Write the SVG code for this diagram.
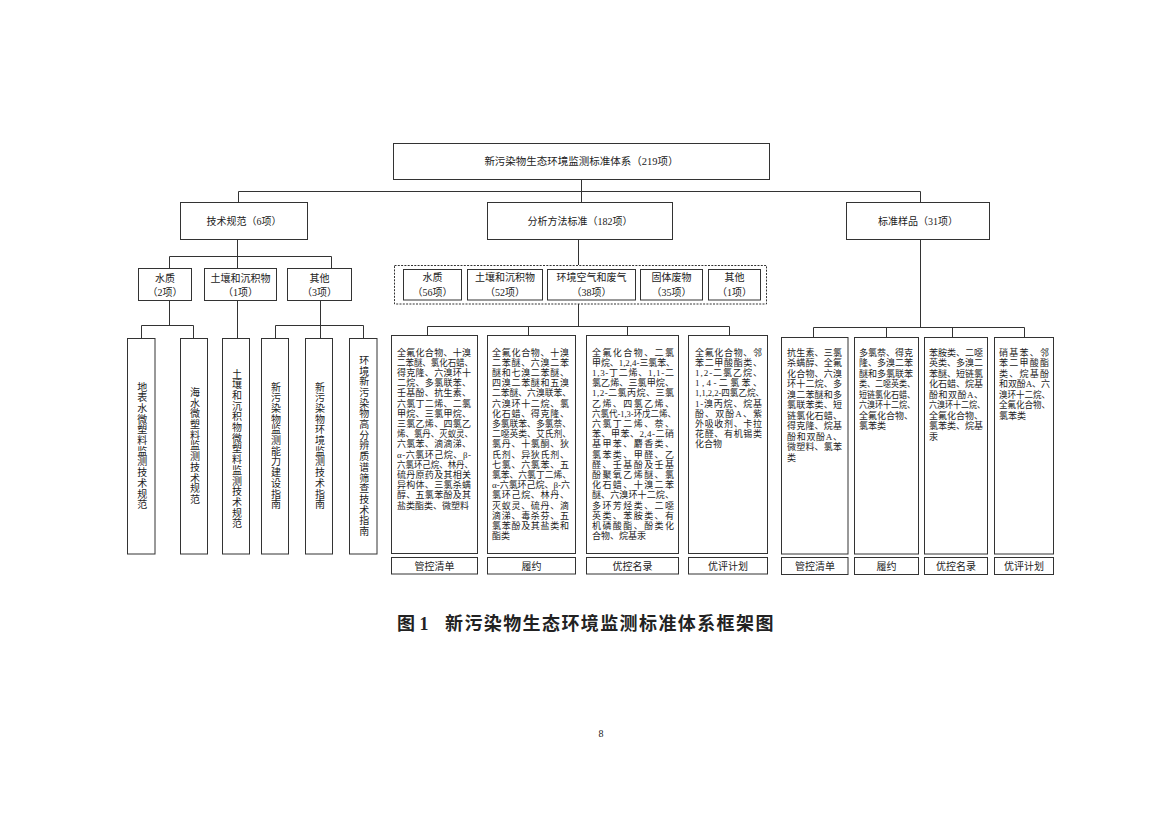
<svg xmlns="http://www.w3.org/2000/svg" width="1169" height="826" viewBox="0 0 1169 826">
<style>
.bg{fill:#fff}
.box{fill:#fff;stroke:#333;stroke-width:1}
.dash{fill:none;stroke:#333;stroke-width:1;stroke-dasharray:2 1.3}
.ln{fill:none;stroke:#333;stroke-width:1}
text{font-family:'Liberation Serif','Noto Sans CJK SC',serif;fill:#222}
.c{font-size:10px;text-anchor:middle}
.top{font-size:10.5px;text-anchor:middle}
.s{font-size:9px}
.v{font-size:10px;text-anchor:middle;writing-mode:vertical-rl;text-orientation:upright;letter-spacing:0.7px}
.cap{font-size:18px;font-weight:bold}
</style>
<rect class="bg" x="0" y="0" width="1169" height="826"/>

<g id="connectors">
<path class="ln" d="M581.5 180V203M238.5 191.5H920.5M238.5 191.5V203M920.5 191.5V203"/>
<path class="ln" d="M237.5 239V269M169.5 256.5H331.5M169.5 256.5V269M331.5 256.5V269"/>
<path class="ln" d="M169.5 300V325.5M141.5 325.5H193.5M141.5 325.5V338M193.5 325.5V338M237.5 300V338M320.5 300V338M275.5 325.5H363.5M275.5 325.5V338M363.5 325.5V338"/>
<path class="ln" d="M578.5 239V265M578.5 304V326.5M427.5 326.5H729.5M427.5 326.5V335M528.5 326.5V335M627.5 326.5V335M729.5 326.5V335"/>
<path class="ln" d="M920.5 239V327.5M813.5 327.5H1024.5M813.5 327.5V337M886.5 327.5V337M952.5 327.5V337M1024.5 327.5V337"/>
</g>

<g id="root">
<rect class="box" x="393.5" y="143.5" width="376" height="36"/>
<text class="top" x="581.5" y="165">新污染物生态环境监测标准体系（219项）</text>
</g>

<g id="tech">
<rect class="box" x="180.5" y="202.5" width="127" height="37"/>
<text class="c" x="244" y="224.5">技术规范（6项）</text>
</g>
<g id="method">
<rect class="box" x="487.5" y="202.5" width="185" height="37"/>
<text class="c" x="580" y="224.5">分析方法标准（182项）</text>
</g>
<g id="sample">
<rect class="box" x="846.5" y="202.5" width="143" height="37"/>
<text class="c" x="918" y="224.5">标准样品（31项）</text>
</g>

<g id="tech-water">
<rect class="box" x="138.5" y="268.5" width="53" height="32"/>
<text class="c" x="165" y="281.5">水质</text><text class="c" x="165" y="295.5">（2项）</text>
</g>
<g id="tech-soil">
<rect class="box" x="204.5" y="268.5" width="72" height="32"/>
<text class="c" x="240.5" y="281.5">土壤和沉积物</text><text class="c" x="240.5" y="295.5">（1项）</text>
</g>
<g id="tech-other">
<rect class="box" x="287.5" y="268.5" width="64" height="32"/>
<text class="c" x="319.5" y="281.5">其他</text><text class="c" x="319.5" y="295.5">（3项）</text>
</g>

<g id="method-group">
<rect class="dash" x="394.5" y="265.5" width="372" height="38.5"/>
<g id="m-water"><rect class="box" x="403.5" y="269.5" width="58" height="30.5"/>
<text class="c" x="432.5" y="280.5">水质</text><text class="c" x="432.5" y="295.5">（56项）</text></g>
<g id="m-soil"><rect class="box" x="467.5" y="269.5" width="75" height="30.5"/>
<text class="c" x="505" y="280.5">土壤和沉积物</text><text class="c" x="505" y="295.5">（52项）</text></g>
<g id="m-air"><rect class="box" x="547.5" y="269.5" width="88" height="30.5"/>
<text class="c" x="591.5" y="280.5">环境空气和废气</text><text class="c" x="591.5" y="295.5">（38项）</text></g>
<g id="m-solid"><rect class="box" x="640.5" y="269.5" width="62" height="30.5"/>
<text class="c" x="671.5" y="280.5">固体废物</text><text class="c" x="671.5" y="295.5">（35项）</text></g>
<g id="m-other"><rect class="box" x="708.5" y="269.5" width="52" height="30.5"/>
<text class="c" x="734.5" y="280.5">其他</text><text class="c" x="734.5" y="295.5">（1项）</text></g>
</g>

<g id="t1"><rect class="box" x="127.5" y="338.5" width="27.5" height="215.5"/><text class="v" x="141.2" y="446">地表水微塑料监测技术规范</text></g>
<g id="t2"><rect class="box" x="180.5" y="338.5" width="27" height="215.5"/><text class="v" x="194" y="446">海水微塑料监测技术规范</text></g>
<g id="t3"><rect class="box" x="222.5" y="338.5" width="27" height="215.5"/><text class="v" x="236" y="449">土壤和沉积物微塑料监测技术规范</text></g>
<g id="t4"><rect class="box" x="261.5" y="338.5" width="27" height="215.5"/><text class="v" x="275" y="446">新污染物监测能力建设指南</text></g>
<g id="t5"><rect class="box" x="305.5" y="338.5" width="27" height="215.5"/><text class="v" x="319" y="446">新污染物环境监测技术指南</text></g>
<g id="t6"><rect class="box" x="349.5" y="338.5" width="27.5" height="215.5"/><text class="v" x="363.2" y="446">环境新污染物高分辨质谱筛查技术指南</text></g>

<g id="m-col1">
<rect class="box" x="391.5" y="335.5" width="86" height="218"/>
<g class="s">
<text x="397" y="355.5" textLength="74" lengthAdjust="spacing">全氟化合物、十溴</text>
<text x="397" y="365.7" textLength="76" lengthAdjust="spacingAndGlyphs">二苯醚、氯化石蜡、</text>
<text x="397" y="375.9" textLength="74" lengthAdjust="spacing">得克隆、六溴环十</text>
<text x="397" y="386.1" textLength="74" lengthAdjust="spacing">二烷、多氯联苯、</text>
<text x="397" y="396.3" textLength="74" lengthAdjust="spacing">壬基酚、抗生素、</text>
<text x="397" y="406.5" textLength="74" lengthAdjust="spacing">六氯丁二烯、二氯</text>
<text x="397" y="416.7" textLength="74" lengthAdjust="spacing">甲烷、三氯甲烷、</text>
<text x="397" y="426.9" textLength="74" lengthAdjust="spacing">三氯乙烯、四氯乙</text>
<text x="397" y="437.1" textLength="76" lengthAdjust="spacingAndGlyphs">烯、氯丹、灭蚁灵、</text>
<text x="397" y="447.3" textLength="74" lengthAdjust="spacing">六氯苯、滴滴涕、</text>
<text x="397" y="457.5" textLength="74" lengthAdjust="spacing">α-六氯环己烷、β-</text>
<text x="397" y="467.7" textLength="76" lengthAdjust="spacingAndGlyphs">六氯环己烷、林丹、</text>
<text x="397" y="477.9" textLength="74" lengthAdjust="spacing">硫丹原药及其相关</text>
<text x="397" y="488.1" textLength="74" lengthAdjust="spacing">异构体、三氯杀螨</text>
<text x="397" y="498.3" textLength="74" lengthAdjust="spacing">醇、五氯苯酚及其</text>
<text x="397" y="508.5">盐类酯类、微塑料</text>
</g>
<rect class="box" x="391.5" y="557.5" width="86" height="16.5"/>
<text class="c" x="434.5" y="569.5">管控清单</text>
</g>

<g id="m-col2">
<rect class="box" x="487.5" y="335.5" width="88" height="218"/>
<g class="s">
<text x="492" y="355.5" textLength="77" lengthAdjust="spacing">全氟化合物、十溴</text>
<text x="492" y="365.7" textLength="77" lengthAdjust="spacing">二苯醚、六溴二苯</text>
<text x="492" y="375.9" textLength="77" lengthAdjust="spacing">醚和七溴二苯醚、</text>
<text x="492" y="386.1" textLength="77" lengthAdjust="spacing">四溴二苯醚和五溴</text>
<text x="492" y="396.3" textLength="79" lengthAdjust="spacingAndGlyphs">二苯醚、六溴联苯、</text>
<text x="492" y="406.5" textLength="77" lengthAdjust="spacing">六溴环十二烷、氯</text>
<text x="492" y="416.7" textLength="77" lengthAdjust="spacing">化石蜡、得克隆、</text>
<text x="492" y="426.9" textLength="79" lengthAdjust="spacingAndGlyphs">多氯联苯、多氯萘、</text>
<text x="492" y="437.1" textLength="79" lengthAdjust="spacingAndGlyphs">二噁英类、艾氏剂、</text>
<text x="492" y="447.3" textLength="77" lengthAdjust="spacing">氯丹、十氯酮、狄</text>
<text x="492" y="457.5" textLength="77" lengthAdjust="spacing">氏剂、异狄氏剂、</text>
<text x="492" y="467.7" textLength="77" lengthAdjust="spacing">七氯、六氯苯、五</text>
<text x="492" y="477.9" textLength="79" lengthAdjust="spacingAndGlyphs">氯苯、六氯丁二烯、</text>
<text x="492" y="488.1" textLength="78" lengthAdjust="spacingAndGlyphs">α-六氯环己烷、β-六</text>
<text x="492" y="498.3" textLength="77" lengthAdjust="spacing">氯环己烷、林丹、</text>
<text x="492" y="508.5" textLength="77" lengthAdjust="spacing">灭蚁灵、硫丹、滴</text>
<text x="492" y="518.7" textLength="77" lengthAdjust="spacing">滴涕、毒杀芬、五</text>
<text x="492" y="528.9" textLength="77" lengthAdjust="spacing">氯苯酚及其盐类和</text>
<text x="492" y="539.1">酯类</text>
</g>
<rect class="box" x="487.5" y="557.5" width="88" height="16.5"/>
<text class="c" x="531.5" y="569.5">履约</text>
</g>

<g id="m-col3">
<rect class="box" x="586.5" y="335.5" width="92" height="218"/>
<g class="s">
<text x="592" y="355.5" textLength="82" lengthAdjust="spacing">全氟化合物、二氯</text>
<text x="592" y="365.7" textLength="83" lengthAdjust="spacingAndGlyphs">甲烷、1,2,4-三氯苯、</text>
<text x="592" y="375.9" textLength="82" lengthAdjust="spacing">1,3-丁二烯、1,1-二</text>
<text x="592" y="386.1" textLength="82" lengthAdjust="spacing">氯乙烯、三氯甲烷、</text>
<text x="592" y="396.3" textLength="82" lengthAdjust="spacing">1,2-二氯丙烷、三氯</text>
<text x="592" y="406.5" textLength="82" lengthAdjust="spacing">乙烯、四氯乙烯、</text>
<text x="592" y="416.7" textLength="84" lengthAdjust="spacingAndGlyphs">六氯代-1,3-环戊二烯、</text>
<text x="592" y="426.9" textLength="82" lengthAdjust="spacing">六氯丁二烯、萘、</text>
<text x="592" y="437.1" textLength="82" lengthAdjust="spacing">苯、甲苯、2,4-二硝</text>
<text x="592" y="447.3" textLength="82" lengthAdjust="spacing">基甲苯、麝香类、</text>
<text x="592" y="457.5" textLength="82" lengthAdjust="spacing">氯苯类、甲醛、乙</text>
<text x="592" y="467.7" textLength="82" lengthAdjust="spacing">醛、壬基酚及壬基</text>
<text x="592" y="477.9" textLength="82" lengthAdjust="spacing">酚聚氧乙烯醚、氯</text>
<text x="592" y="488.1" textLength="82" lengthAdjust="spacing">化石蜡、十溴二苯</text>
<text x="592" y="498.3" textLength="82" lengthAdjust="spacing">醚、六溴环十二烷、</text>
<text x="592" y="508.5" textLength="82" lengthAdjust="spacing">多环芳烃类、二噁</text>
<text x="592" y="518.7" textLength="82" lengthAdjust="spacing">英类、苯胺类、有</text>
<text x="592" y="528.9" textLength="82" lengthAdjust="spacing">机磷酸酯、酚类化</text>
<text x="592" y="539.1">合物、烷基汞</text>
</g>
<rect class="box" x="586.5" y="557.5" width="92" height="16.5"/>
<text class="c" x="632.5" y="569.5">优控名录</text>
</g>

<g id="m-col4">
<rect class="box" x="688.5" y="335.5" width="79" height="218"/>
<g class="s">
<text x="695" y="355.5" textLength="67" lengthAdjust="spacing">全氟化合物、邻</text>
<text x="695" y="365.7" textLength="67" lengthAdjust="spacing">苯二甲酸酯类、</text>
<text x="695" y="375.9" textLength="67" lengthAdjust="spacing">1,2-二氯乙烷、</text>
<text x="695" y="386.1" textLength="67" lengthAdjust="spacing">1,4-二氯苯、</text>
<text x="695" y="396.3" textLength="69" lengthAdjust="spacingAndGlyphs">1,1,2,2-四氯乙烷、</text>
<text x="695" y="406.5" textLength="67" lengthAdjust="spacing">1-溴丙烷、烷基</text>
<text x="695" y="416.7" textLength="67" lengthAdjust="spacing">酚、双酚A、紫</text>
<text x="695" y="426.9" textLength="67" lengthAdjust="spacing">外吸收剂、卡拉</text>
<text x="695" y="437.1" textLength="67" lengthAdjust="spacing">花醛、有机锡类</text>
<text x="695" y="447.3">化合物</text>
</g>
<rect class="box" x="688.5" y="557.5" width="79" height="16.5"/>
<text class="c" x="728" y="569.5">优评计划</text>
</g>

<g id="s-col1">
<rect class="box" x="781.5" y="337.5" width="66.5" height="216.5"/>
<g class="s">
<text x="787" y="355.7" textLength="55" lengthAdjust="spacing">抗生素、三氯</text>
<text x="787" y="366.2" textLength="55" lengthAdjust="spacing">杀螨醇、全氟</text>
<text x="787" y="376.7" textLength="55" lengthAdjust="spacing">化合物、六溴</text>
<text x="787" y="387.2" textLength="55" lengthAdjust="spacing">环十二烷、多</text>
<text x="787" y="397.7" textLength="55" lengthAdjust="spacing">溴二苯醚和多</text>
<text x="787" y="408.2" textLength="55" lengthAdjust="spacing">氯联苯类、短</text>
<text x="787" y="418.7" textLength="55" lengthAdjust="spacing">链氯化石蜡、</text>
<text x="787" y="429.2" textLength="55" lengthAdjust="spacing">得克隆、烷基</text>
<text x="787" y="439.7" textLength="55" lengthAdjust="spacing">酚和双酚A、</text>
<text x="787" y="450.2" textLength="55" lengthAdjust="spacing">微塑料、氯苯</text>
<text x="787" y="460.7">类</text>
</g>
<rect class="box" x="781.5" y="557.5" width="66.5" height="17"/>
<text class="c" x="815" y="570">管控清单</text>
</g>

<g id="s-col2">
<rect class="box" x="854.5" y="337.5" width="64" height="216.5"/>
<g class="s">
<text x="859" y="355.7" textLength="54" lengthAdjust="spacing">多氯萘、得克</text>
<text x="859" y="366.2" textLength="54" lengthAdjust="spacing">隆、多溴二苯</text>
<text x="859" y="376.7" textLength="54" lengthAdjust="spacing">醚和多氯联苯</text>
<text x="859" y="387.2" textLength="56" lengthAdjust="spacingAndGlyphs">类、二噁英类、</text>
<text x="859" y="397.7" textLength="56" lengthAdjust="spacingAndGlyphs">短链氯化石蜡、</text>
<text x="859" y="408.2" textLength="56" lengthAdjust="spacingAndGlyphs">六溴环十二烷、</text>
<text x="859" y="418.7" textLength="54" lengthAdjust="spacing">全氟化合物、</text>
<text x="859" y="429.2">氯苯类</text>
</g>
<rect class="box" x="854.5" y="557.5" width="64" height="17"/>
<text class="c" x="886.5" y="570">履约</text>
</g>

<g id="s-col3">
<rect class="box" x="924.5" y="337.5" width="63" height="216.5"/>
<g class="s">
<text x="929" y="355.7" textLength="54" lengthAdjust="spacing">苯胺类、二噁</text>
<text x="929" y="366.2" textLength="54" lengthAdjust="spacing">英类、多溴二</text>
<text x="929" y="376.7" textLength="54" lengthAdjust="spacing">苯醚、短链氯</text>
<text x="929" y="387.2" textLength="54" lengthAdjust="spacing">化石蜡、烷基</text>
<text x="929" y="397.7" textLength="54" lengthAdjust="spacing">酚和双酚A、</text>
<text x="929" y="408.2" textLength="56" lengthAdjust="spacingAndGlyphs">六溴环十二烷、</text>
<text x="929" y="418.7" textLength="54" lengthAdjust="spacing">全氟化合物、</text>
<text x="929" y="429.2" textLength="54" lengthAdjust="spacing">氯苯类、烷基</text>
<text x="929" y="439.7">汞</text>
</g>
<rect class="box" x="924.5" y="557.5" width="63" height="17"/>
<text class="c" x="956" y="570">优控名录</text>
</g>

<g id="s-col4">
<rect class="box" x="994.5" y="337.5" width="59" height="216.5"/>
<g class="s">
<text x="999" y="355.7" textLength="50" lengthAdjust="spacing">硝基苯、邻</text>
<text x="999" y="366.2" textLength="50" lengthAdjust="spacing">苯二甲酸酯</text>
<text x="999" y="376.7" textLength="50" lengthAdjust="spacing">类、烷基酚</text>
<text x="999" y="387.2" textLength="51" lengthAdjust="spacing">和双酚A、六</text>
<text x="999" y="397.7" textLength="51" lengthAdjust="spacingAndGlyphs">溴环十二烷、</text>
<text x="999" y="408.2" textLength="51" lengthAdjust="spacingAndGlyphs">全氟化合物、</text>
<text x="999" y="418.7">氯苯类</text>
</g>
<rect class="box" x="994.5" y="557.5" width="59" height="17"/>
<text class="c" x="1024" y="570">优评计划</text>
</g>

<g id="caption">
<text class="cap" x="397" y="630">图 1</text>
<text class="cap" x="445" y="630" letter-spacing="1.4">新污染物生态环境监测标准体系框架图</text>
</g>
<text x="601" y="737" font-size="10" text-anchor="middle">8</text>
</svg>
